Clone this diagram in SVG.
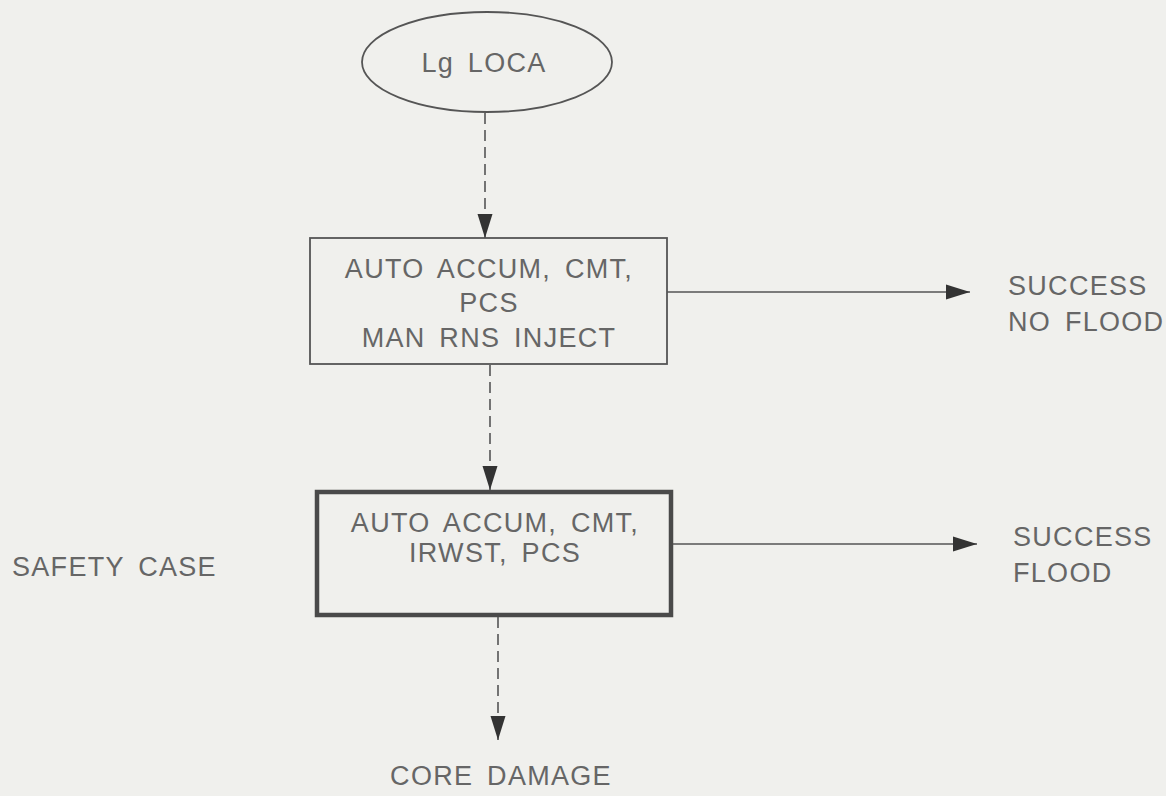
<svg xmlns="http://www.w3.org/2000/svg" width="1166" height="796" viewBox="0 0 1166 796">
<defs>
<style>
.t{font-family:"Liberation Sans",Arial,sans-serif;font-size:27px;fill:#666;letter-spacing:1.3px;word-spacing:5px}
.c{text-anchor:middle}
.ln{stroke:#555;stroke-width:1.6;fill:none}
.d{stroke-dasharray:11 6}
.box{fill:none;stroke:#555;stroke-width:1.8}
.thick{fill:none;stroke:#4a4a4a;stroke-width:4.5}
</style>
<marker id="ah" markerWidth="24" markerHeight="18" refX="24" refY="9" orient="auto" markerUnits="userSpaceOnUse">
<path d="M0,1.5 L24,9 L0,16.5 Z" fill="#333"/>
</marker>
</defs>
<rect width="1166" height="796" fill="#f0f0ed"/>
<g id="lgloca">
<ellipse cx="487" cy="62" rx="125" ry="50" class="box"/>
<text x="484" y="72" class="t c">Lg LOCA</text>
</g>
<g id="box1">
<rect x="310" y="238" width="357" height="126" class="box"/>
<text x="489" y="278" class="t c">AUTO ACCUM, CMT,</text>
<text x="489" y="312" class="t c">PCS</text>
<text x="489" y="347" class="t c">MAN RNS INJECT</text>
</g>
<g id="box2">
<rect x="317" y="492" width="354" height="123" class="thick"/>
<text x="495" y="532" class="t c">AUTO ACCUM, CMT,</text>
<text x="495" y="562" class="t c">IRWST, PCS</text>
</g>
<g id="success-noflood">
<text x="1008" y="295" class="t">SUCCESS</text>
<text x="1008" y="331" class="t">NO FLOOD</text>
</g>
<g id="success-flood">
<text x="1013" y="546" class="t">SUCCESS</text>
<text x="1013" y="582" class="t">FLOOD</text>
</g>
<g id="safety-case">
<text x="12" y="576" class="t">SAFETY CASE</text>
</g>
<g id="core-damage">
<text x="501" y="785" class="t c">CORE DAMAGE</text>
</g>
<g id="connectors">
<line x1="485" y1="113" x2="485" y2="238" class="ln d" marker-end="url(#ah)"/>
<line x1="490" y1="365" x2="490" y2="490" class="ln d" marker-end="url(#ah)"/>
<line x1="498" y1="617" x2="498" y2="740" class="ln d" marker-end="url(#ah)"/>
<line x1="667" y1="292" x2="970" y2="292" class="ln" marker-end="url(#ah)"/>
<line x1="673" y1="544" x2="977" y2="544" class="ln" marker-end="url(#ah)"/>
</g>
</svg>
